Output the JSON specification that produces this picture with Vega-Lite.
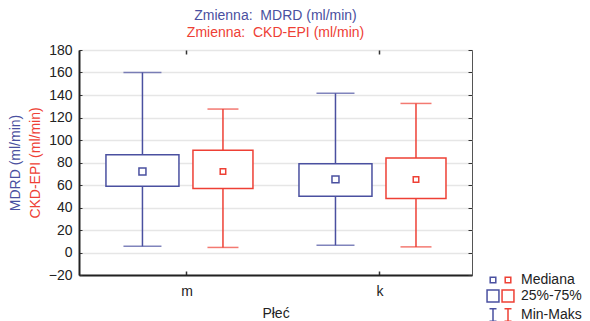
{
  "$schema": "https://vega.github.io/schema/vega-lite/v6.json",
  "width": 393,
  "height": 225,
  "autosize": {"type": "none"},
  "padding": {"left": 79, "top": 50, "right": 118, "bottom": 46},
  "background": "white",
  "title": {
    "text": "Zmienna:\u00a0 MDRD (ml/min)",
    "subtitle": "Zmienna:\u00a0 CKD-EPI (ml/min)",
    "fontSize": 14,
    "fontWeight": "normal",
    "font": "Liberation Sans",
    "color": "#4a50a0",
    "subtitleFontSize": 14,
    "subtitleFont": "Liberation Sans",
    "subtitleColor": "#ee4035",
    "subtitlePadding": 3,
    "anchor": "middle",
    "offset": 3
  },
  "data": {
    "values": [
      {"Płeć": "m", "Zmienna": "MDRD", "min": 5.5, "q1": 59, "median": 72, "q3": 87, "max": 160},
      {"Płeć": "m", "Zmienna": "CKD-EPI", "min": 4.5, "q1": 57, "median": 72, "q3": 91, "max": 127.5},
      {"Płeć": "k", "Zmienna": "MDRD", "min": 6.5, "q1": 50, "median": 65, "q3": 79, "max": 141.5},
      {"Płeć": "k", "Zmienna": "CKD-EPI", "min": 5, "q1": 48, "median": 65, "q3": 84, "max": 132.5}
    ]
  },
  "encoding": {
    "x": {"field": "Płeć", "type": "nominal", "sort": ["m", "k"], "axis": null,
      "scale": {"paddingInner": 0.2, "paddingOuter": 0.118, "align": 0.675}},
    "xOffset": {"field": "Zmienna", "type": "nominal", "sort": ["MDRD", "CKD-EPI"],
      "scale": {"paddingInner": 0.5, "paddingOuter": 0.209, "align": 0.3737}}
  },
  "layer": [
    {
      "mark": {"type": "rule", "strokeWidth": 1.5},
      "encoding": {
        "x": {"field": "Płeć", "type": "nominal", "sort": ["m", "k"],
          "axis": {"orient": "top", "labels": false, "domain": false, "grid": false, "ticks": true, "tickSize": -4, "tickColor": "#333", "tickWidth": 1.5, "title": null}},
        "y": {"field": "min", "type": "quantitative",
          "scale": {"domain": [-20, 180], "nice": false, "zero": false},
          "axis": {"orient": "left", "labels": false, "ticks": false, "domain": false, "grid": false,
            "title": "CKD-EPI (ml/min)", "titleColor": "#ee4035", "titleFont": "Liberation Sans", "titleFontSize": 14, "titleFontWeight": "normal",
            "titleX": -44, "titleY": 112.5, "titleAlign": "center", "titleBaseline": "middle", "titleAngle": -90}},
        "y2": {"field": "max"},
        "color": {"field": "Zmienna", "type": "nominal", "legend": null,
          "scale": {"domain": ["MDRD", "CKD-EPI"], "range": ["#4a50a0", "#ee4035"]}}
      }
    },
    {
      "mark": {"type": "bar", "fill": "white", "strokeWidth": 1.5},
      "encoding": {
        "x": {"field": "Płeć", "type": "nominal", "sort": ["m", "k"],
          "axis": {"orient": "bottom", "labelFont": "Liberation Sans", "labelFontSize": 14, "labelColor": "#222", "labelAngle": 0,
            "domain": true, "domainColor": "#222", "domainWidth": 2, "ticks": true, "tickSize": -4, "tickColor": "#333", "tickWidth": 1.5,
            "labelPadding": 13, "grid": false,
            "title": "Płeć", "titleFont": "Liberation Sans", "titleFontSize": 14, "titleFontWeight": "normal", "titleColor": "#222",
            "titleY": 38, "titleBaseline": "middle"}},
        "y": {"field": "q1", "type": "quantitative",
          "axis": {"orient": "left", "values": [-20, 0, 20, 40, 60, 80, 100, 120, 140, 160, 180],
            "labelFont": "Liberation Sans", "labelFontSize": 14, "labelColor": "#222", "labelPadding": 10,
            "domain": true, "domainColor": "#222", "domainWidth": 2,
            "ticks": true, "tickSize": -3, "tickColor": "#333", "tickWidth": 1,
            "grid": true, "gridColor": "#e6e6e6", "gridWidth": 1.5,
            "title": "MDRD (ml/min)", "titleColor": "#4a50a0", "titleFont": "Liberation Sans", "titleFontSize": 14, "titleFontWeight": "normal",
            "titleX": -64, "titleY": 112.5, "titleAlign": "center", "titleBaseline": "middle", "titleAngle": -90}},
        "y2": {"field": "q3"},
        "stroke": {"field": "Zmienna", "type": "nominal", "legend": null,
          "scale": {"domain": ["MDRD", "CKD-EPI"], "range": ["#4a50a0", "#ee4035"]}},
        "size": {"condition": {"test": "datum.Zmienna === 'MDRD'", "value": 73}, "value": 60}
      }
    },
    {
      "mark": {"type": "tick", "thickness": 1.5},
      "encoding": {
        "y": {"field": "min", "type": "quantitative",
          "axis": {"orient": "right", "values": [-20, 0, 20, 40, 60, 80, 100, 120, 140, 160, 180],
            "labels": false, "domain": false, "grid": false, "ticks": true, "tickSize": -4, "tickColor": "#333", "tickWidth": 1, "title": null}},
        "color": {"field": "Zmienna", "type": "nominal", "legend": null},
        "size": {"condition": {"test": "datum.Zmienna === 'MDRD'", "value": 38}, "value": 31}
      }
    },
    {
      "mark": {"type": "tick", "thickness": 1.5},
      "encoding": {
        "y": {"field": "max", "type": "quantitative", "axis": null},
        "color": {"field": "Zmienna", "type": "nominal", "legend": null},
        "size": {"condition": {"test": "datum.Zmienna === 'MDRD'", "value": 38}, "value": 31}
      }
    },
    {
      "transform": [{"filter": "datum.Zmienna === 'MDRD'"}],
      "mark": {"type": "point", "filled": false, "stroke": "#4a50a0", "strokeWidth": 1.5, "size": 306, "opacity": 1},
      "encoding": {
        "y": {"field": "median", "type": "quantitative", "axis": null},
        "shape": {"datum": "Mediana", "type": "nominal",
          "scale": {"domain": ["Mediana", "25%-75%", "Min-Maks"],
            "range": ["M-0.4,-0.4H0.4V0.4H-0.4Z", "M-0.85,-0.85H0.85V0.85H-0.85Z", "M-0.5,-0.9L0.5,-0.9M0,-0.9L0,0.9M-0.5,0.9L0.5,0.9"]},
          "legend": {"orient": "none", "legendX": 406, "legendY": 222, "title": null, "padding": 0,
            "symbolSize": 196, "symbolStrokeWidth": 1.5, "symbolStrokeColor": "#4a50a0", "symbolFillColor": "transparent", "symbolOpacity": 1,
            "labelExpr": "''", "labelFontSize": 14, "rowPadding": 0}}
      }
    },
    {
      "transform": [{"filter": "datum.Zmienna === 'CKD-EPI'"}],
      "mark": {"type": "point", "filled": false, "stroke": "#ee4035", "strokeWidth": 1.5, "size": 189, "opacity": 1},
      "encoding": {
        "y": {"field": "median", "type": "quantitative", "axis": null},
        "shape": {"datum": "Mediana", "type": "nominal",
          "scale": {"domain": ["Mediana", "25%-75%", "Min-Maks"],
            "range": ["M-0.4,-0.4H0.4V0.4H-0.4Z", "M-0.85,-0.85H0.85V0.85H-0.85Z", "M-0.5,-0.9L0.5,-0.9M0,-0.9L0,0.9M-0.5,0.9L0.5,0.9"]},
          "legend": {"orient": "none", "legendX": 421, "legendY": 222, "title": null, "padding": 0,
            "symbolSize": 196, "symbolStrokeWidth": 1.5, "symbolStrokeColor": "#ee4035", "symbolFillColor": "transparent", "symbolOpacity": 1,
            "labelFont": "Liberation Sans", "labelFontSize": 14, "labelColor": "#222", "labelOffset": 5, "rowPadding": 0}}
      }
    }
  ],
  "resolve": {
    "axis": {"x": "independent", "y": "independent"},
    "scale": {"shape": "independent"}
  },
  "config": {
    "view": {"stroke": "#555", "strokeWidth": 1},
    "font": "Liberation Sans"
  }
}
